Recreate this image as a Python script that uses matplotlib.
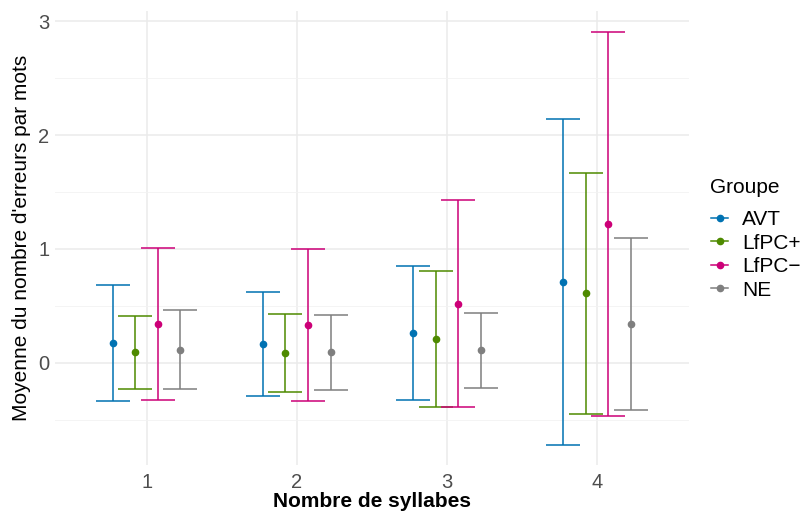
import matplotlib.pyplot as plt
from matplotlib.lines import Line2D
import numpy as np

plt.rcParams['font.family'] = ['Liberation Sans', 'DejaVu Sans']

syllabes = [1, 2, 3, 4]
groupes = ["AVT", "LfPC+", "LfPC\u2212", "NE"]
couleurs = ["#0072B2", "#4E8A00", "#CC0077", "#7F7F7F"]

# moyennes et ecarts-types
moy_avt = [0.17, 0.165, 0.26, 0.71]
et_avt = [0.51, 0.46, 0.59, 1.43]
moy_lfpc_plus = [0.09, 0.085, 0.21, 0.61]
et_lfpc_plus = [0.32, 0.345, 0.60, 1.06]
moy_lfpc_moins = [0.34, 0.33, 0.52, 1.22]
et_lfpc_moins = [0.67, 0.67, 0.91, 1.69]
moy_ne = [0.115, 0.09, 0.11, 0.34]
et_ne = [0.345, 0.33, 0.33, 0.76]

moyennes = [moy_avt, moy_lfpc_plus, moy_lfpc_moins, moy_ne]
ecarts = [et_avt, et_lfpc_plus, et_lfpc_moins, et_ne]
decalages = [-0.225, -0.075, 0.075, 0.225]

fig = plt.figure(figsize=(8.03, 5.11), dpi=100)
ax = fig.add_axes([0.0685, 0.090, 0.789, 0.888])

for i in range(4):
    x = np.array(syllabes) + decalages[i]
    ax.errorbar(x, moyennes[i], yerr=ecarts[i], fmt='o', color=couleurs[i],
                ms=4.5, elinewidth=1.1, capsize=12, capthick=1.1, zorder=3)

ax.set_xlim(0.39, 4.61)
ax.set_ylim(-0.90, 3.09)
ax.set_xticks(syllabes)
ax.set_yticks([0, 1, 2, 3])
ax.set_yticks([-0.5, 0.5, 1.5, 2.5], minor=True)
ax.grid(True, which='major', color='#EBEBEB', lw=1.1, zorder=0)
ax.grid(True, which='minor', axis='y', color='#F2F2F2', lw=0.6, zorder=0)
for s in ax.spines.values():
    s.set_visible(False)
ax.tick_params(which='both', length=0, labelsize=14.5, labelcolor='#4D4D4D')
ax.tick_params(axis='x', pad=6)
ax.tick_params(axis='y', pad=4)

ax.set_xlabel("Nombre de syllabes", fontsize=15, fontweight='bold', labelpad=0)
ax.set_ylabel("Moyenne du nombre d'erreurs par mots", fontsize=15, labelpad=5)

fig.text(710 / 803, 1 - 187 / 511, "Groupe", fontsize=15, ha='left', va='center')
poignees = [Line2D([0], [0], color=c, marker='o', ms=4.5, lw=1.1) for c in couleurs]
leg = fig.legend(poignees, groupes, loc='upper left',
                 bbox_to_anchor=(0.885, 1 - 210 / 511), frameon=False, fontsize=15,
                 handlelength=0.85, handletextpad=0.65,
                 labelspacing=0.22, borderpad=0, borderaxespad=0)

fig.savefig("out.png", dpi=100)
